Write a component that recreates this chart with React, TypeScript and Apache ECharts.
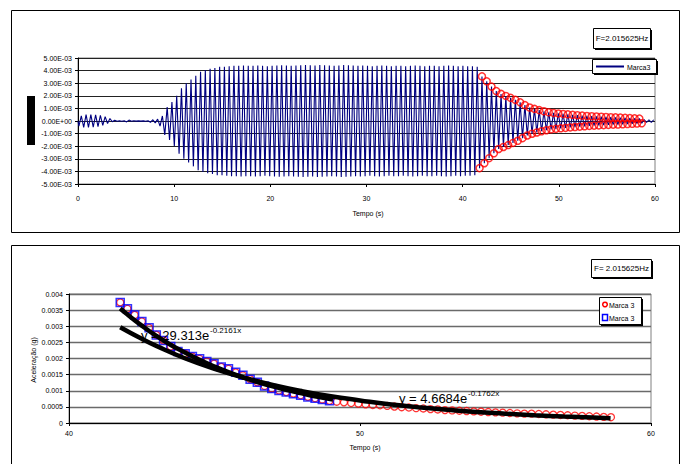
import React, { useEffect, useRef } from "react";
import * as echarts from "echarts";

// ---------- data ----------
const HALF_PERIOD = 0.248; // s, half period of the 2.015625 Hz response
const DECAY_START = 41.76; // s, first picked peak of the free decay

// peak amplitude of each cycle before the free decay (units of 1e-3 g)
const preDecayCycleAmp = [
  0.4, 0.5, 0.5, 0.48, 0.45, 0.35, 0.2, 0.06, 0.02, 0.02, 0.07, 0.02, 0.01, 0.01,
  0.02, 0.1, 0.15, 0.4, 1.1, 1.5, 2.0, 2.6, 3.0, 3.3, 3.6, 3.9, 4.05, 4.15, 4.2,
  4.3, 4.3, 4.35, 4.38, 4.38, 4.4, 4.38, 4.38, 4.4, 4.38, 4.35, 4.38, 4.4, 4.42,
  4.4, 4.38, 4.4, 4.42, 4.45, 4.42, 4.4, 4.45, 4.42, 4.4, 4.38, 4.4, 4.45, 4.42,
  4.4, 4.38, 4.4, 4.38, 4.35, 4.38, 4.4, 4.38, 4.35, 4.38, 4.38, 4.35, 4.38, 4.4,
  4.38, 4.35, 4.38, 4.38, 4.35, 4.38, 4.4, 4.38, 4.35, 4.38, 4.35, 4.35, 4.3,
];

// picked peaks of the free decay, absolute values (g) - "Marca 3" red circles
const decayPeaks = [
  0.00374, 0.00354, 0.00335, 0.00315, 0.00295, 0.00273, 0.00256, 0.00237, 0.00222,
  0.00215, 0.00206, 0.00199, 0.00191, 0.00184, 0.00174, 0.00168, 0.00157, 0.00148,
  0.00136, 0.00126, 0.00115, 0.00107, 0.00101, 0.00096, 0.00091, 0.00086, 0.00081,
  0.00077, 0.00073, 0.00069, 0.00066, 0.00064, 0.00062, 0.0006, 0.00058, 0.00056,
  0.00055, 0.00053, 0.00051, 0.00049, 0.00048, 0.00046, 0.00045, 0.00043, 0.00042,
  0.0004, 0.00039, 0.00038, 0.00037, 0.00036, 0.00035, 0.00034, 0.00033, 0.00032,
  0.00031, 0.0003, 0.00029, 0.00029, 0.00028, 0.00027, 0.00026, 0.00025, 0.00024,
  0.00023, 0.00022, 0.00021, 0.0002, 0.00019, 0.00018,
];

// second pick of the same decay (g) - "Marca 3" blue squares
const bluePeaks = [
  0.00374, 0.00354, 0.00335, 0.00315, 0.00295, 0.00273, 0.00256, 0.00237, 0.00222,
  0.00215, 0.00206, 0.00199, 0.00191, 0.00184, 0.00174, 0.00168, 0.00157, 0.00148,
  0.00136, 0.00126, 0.00115, 0.00107, 0.00101, 0.00096, 0.00091, 0.00086, 0.00081,
  0.00077, 0.00073, 0.00069,
];

// residual oscillation after the last pick (units of 1e-3 g)
const tailAmp = [0.12, 0.12, 0.1, 0.12, 0.1];

// trend lines (as drawn)
const upperTrendT = [41.76, 42, 42.5, 43, 43.5, 44, 44.5, 45, 45.5, 46, 46.5, 47, 47.5, 48, 48.5, 49.07];
const upperTrendV = [
  0.00355, 0.00337, 0.00302, 0.0027, 0.00242, 0.00218, 0.00195, 0.00175, 0.00157,
  0.00141, 0.00126, 0.00114, 0.00102, 0.00092, 0.00082, 0.00073,
];
const lowerTrendT = [41.76, 42.5, 43, 44, 45, 46, 47, 48, 49, 50, 51, 52, 53, 54, 55, 56, 57, 58, 58.61];
const lowerTrendV = [
  0.00297, 0.00261, 0.00239, 0.002, 0.00168, 0.00141, 0.00118, 0.00099, 0.00083,
  0.0007, 0.00058, 0.00049, 0.00041, 0.00034, 0.00029, 0.00024, 0.0002, 0.00017,
  0.00015,
];

const FONT = 'Arial, "Liberation Sans", Helvetica, sans-serif';

function buildSignal(): [number, number][] {
  const out: [number, number][] = [[0, 0]];
  const t0 = DECAY_START - preDecayCycleAmp.length * 2 * HALF_PERIOD;
  preDecayCycleAmp.forEach((a, j) => {
    out.push([t0 + 2 * j * HALF_PERIOD, -a * 1e-3]);
    out.push([t0 + (2 * j + 1) * HALF_PERIOD, a * 1e-3]);
  });
  decayPeaks.forEach((v, i) => out.push([DECAY_START + i * HALF_PERIOD, i % 2 === 0 ? -v : v]));
  tailAmp.forEach((a, i) => {
    const k = decayPeaks.length + i;
    out.push([DECAY_START + k * HALF_PERIOD, (k % 2 === 0 ? -1 : 1) * a * 1e-3]);
  });
  return out;
}

function sciLabel(v: number): string {
  const s = v.toExponential(2);
  const [m, e] = s.split("e");
  const n = parseInt(e, 10);
  const sign = n < 0 ? "-" : "+";
  const abs = Math.abs(n);
  return m + "E" + sign + (abs < 10 ? "0" + abs : String(abs));
}

function shadowBox(x: number, y: number, w: number, h: number): any[] {
  return [
    { type: "rect", shape: { x: x + 1.5, y: y + 1.5, width: w, height: h }, style: { fill: "#000" }, z: 10 },
    { type: "rect", shape: { x, y, width: w, height: h }, style: { fill: "#fff", stroke: "#000", lineWidth: 1 }, z: 11 },
  ];
}

export default function App() {
  const ref = useRef<HTMLDivElement>(null);

  useEffect(() => {
    if (!ref.current) return;
    const chart = echarts.init(ref.current, undefined, { renderer: "svg" });

    const signal = buildSignal();
    const topPicks = decayPeaks.map((v, i) => [DECAY_START + i * HALF_PERIOD, i % 2 === 0 ? -v : v]);
    const redPts = decayPeaks.map((v, i) => [DECAY_START + i * HALF_PERIOD, v]);
    const bluePts = bluePeaks.map((v, i) => [DECAY_START + i * HALF_PERIOD, v]);
    const upper = upperTrendT.map((t, i) => [t, upperTrendV[i]]);
    const lower = lowerTrendT.map((t, i) => [t, lowerTrendV[i]]);

    const axisCommon = {
      axisLine: { show: true, onZero: false, lineStyle: { color: "#000", width: 1 } },
      axisTick: { show: true, length: 3, lineStyle: { color: "#000" } },
    };

    const graphic: any[] = [
      { type: "rect", shape: { x: 11.5, y: 10.5, width: 668, height: 222 }, style: { fill: "none", stroke: "#000", lineWidth: 1 }, z: 5 },
      { type: "rect", shape: { x: 11.5, y: 245.5, width: 668, height: 230 }, style: { fill: "none", stroke: "#000", lineWidth: 1 }, z: 5 },
      { type: "rect", shape: { x: 27, y: 96, width: 8, height: 49 }, style: { fill: "#000" }, z: 5 },
      ...shadowBox(593.5, 28.5, 57, 20),
      { type: "text", x: 622, y: 38.5, z: 12, style: { text: "F=2.015625Hz", font: `8px ${FONT}`, fill: "#000", align: "center", verticalAlign: "middle" } },
      ...shadowBox(592.5, 59.5, 64, 14),
      { type: "line", shape: { x1: 596, y1: 66.5, x2: 624, y2: 66.5 }, style: { stroke: "#000080", lineWidth: 2 }, z: 12 },
      { type: "text", x: 627, y: 67, z: 12, style: { text: "Marca3", font: `7px ${FONT}`, fill: "#000", align: "left", verticalAlign: "middle" } },
      ...shadowBox(591.5, 259.5, 60, 18),
      { type: "text", x: 621.5, y: 268.5, z: 12, style: { text: "F= 2.015625Hz", font: `8px ${FONT}`, fill: "#000", align: "center", verticalAlign: "middle" } },
      ...shadowBox(599.5, 297.5, 42, 27),
      { type: "circle", shape: { cx: 605, cy: 304.5, r: 2.3 }, style: { fill: "none", stroke: "#ff0000", lineWidth: 1.5 }, z: 12 },
      { type: "text", x: 609, y: 305, z: 12, style: { text: "Marca 3", font: `7px ${FONT}`, fill: "#000", align: "left", verticalAlign: "middle" } },
      { type: "rect", shape: { x: 602.5, y: 314.5, width: 5, height: 6 }, style: { fill: "none", stroke: "#0000ff", lineWidth: 1.5 }, z: 12 },
      { type: "text", x: 609, y: 318, z: 12, style: { text: "Marca 3", font: `7px ${FONT}`, fill: "#000", align: "left", verticalAlign: "middle" } },
      { type: "text", x: 368, y: 213, z: 12, style: { text: "Tempo (s)", font: `7px ${FONT}`, fill: "#000", align: "center", verticalAlign: "middle" } },
      { type: "text", x: 365, y: 447, z: 12, style: { text: "Tempo (s)", font: `7px ${FONT}`, fill: "#000", align: "center", verticalAlign: "middle" } },
      { type: "text", x: 33, y: 360, rotation: Math.PI / 2, z: 12, style: { text: "Aceleração (g)", font: `7px ${FONT}`, fill: "#000", align: "center", verticalAlign: "middle" } },
      { type: "text", x: 141, y: 335, z: 12, style: { text: "y = 29.313e", font: `13px ${FONT}`, fill: "#000", align: "left", verticalAlign: "middle" } },
      { type: "text", x: 210, y: 330, z: 12, style: { text: "-0.2161x", font: `8px ${FONT}`, fill: "#000", align: "left", verticalAlign: "middle" } },
      { type: "text", x: 399, y: 398, z: 12, style: { text: "y = 4.6684e", font: `13px ${FONT}`, fill: "#000", align: "left", verticalAlign: "middle" } },
      { type: "text", x: 468, y: 393, z: 12, style: { text: "-0.1762x", font: `8px ${FONT}`, fill: "#000", align: "left", verticalAlign: "middle" } },
    ];

    chart.setOption({
      animation: false,
      backgroundColor: "#fff",
      textStyle: { fontFamily: FONT },
      grid: [
        { left: 78, top: 58, width: 577, height: 126, show: true, borderColor: "#808080", borderWidth: 1, backgroundColor: "transparent" },
        { left: 69, top: 294, width: 582, height: 129, show: true, borderColor: "#808080", borderWidth: 1, backgroundColor: "transparent" },
      ],
      xAxis: [
        {
          gridIndex: 0, type: "value", min: 0, max: 60, interval: 10, ...axisCommon,
          axisLabel: { fontSize: 7, color: "#000", margin: 11, fontFamily: FONT },
          splitLine: { show: false },
        },
        {
          gridIndex: 1, type: "value", min: 40, max: 60, interval: 10, ...axisCommon,
          axisLabel: { fontSize: 7, color: "#000", margin: 7, fontFamily: FONT },
          splitLine: { show: false },
        },
      ],
      yAxis: [
        {
          gridIndex: 0, type: "value", min: -0.005, max: 0.005, interval: 0.001, ...axisCommon,
          axisLabel: { fontSize: 7, color: "#000", margin: 6, fontFamily: FONT, formatter: (v: number) => sciLabel(v) },
          splitLine: { show: true, lineStyle: { color: "#222", width: 1 } },
        },
        {
          gridIndex: 1, type: "value", min: 0, max: 0.004, interval: 0.0005, ...axisCommon,
          axisLabel: { fontSize: 7, color: "#000", margin: 6, fontFamily: FONT, formatter: (v: number) => String(+v.toFixed(4)) },
          splitLine: { show: true, lineStyle: { color: "#6a6a6a", width: 1.3 } },
        },
      ],
      series: [
        {
          type: "line", xAxisIndex: 0, yAxisIndex: 0, data: signal, showSymbol: false, symbol: "none",
          lineStyle: { color: "#000080", width: 1.1 }, z: 2,
        },
        {
          type: "scatter", xAxisIndex: 0, yAxisIndex: 0, data: topPicks, symbol: "circle", symbolSize: 7,
          itemStyle: { color: "rgba(0,0,0,0)", borderColor: "#ff0000", borderWidth: 1.5 }, z: 3,
        },
        {
          type: "scatter", xAxisIndex: 1, yAxisIndex: 1, data: redPts, symbol: "circle", symbolSize: 7,
          itemStyle: { color: "rgba(0,0,0,0)", borderColor: "#ff0000", borderWidth: 1.3 }, z: 3,
        },
        {
          type: "scatter", xAxisIndex: 1, yAxisIndex: 1, data: bluePts, symbol: "rect", symbolSize: 8,
          itemStyle: { color: "rgba(0,0,0,0)", borderColor: "#0000ff", borderWidth: 1.5 }, z: 4,
        },
        {
          type: "line", xAxisIndex: 1, yAxisIndex: 1, data: upper, smooth: true, showSymbol: false, symbol: "none",
          lineStyle: { color: "#000", width: 4.5 }, z: 5,
        },
        {
          type: "line", xAxisIndex: 1, yAxisIndex: 1, data: lower, smooth: true, showSymbol: false, symbol: "none",
          lineStyle: { color: "#000", width: 4.5 }, z: 5,
        },
      ],
      graphic,
    });

    return () => chart.dispose();
  }, []);

  return (
    <div
      ref={ref}
      style={{ position: "absolute", left: 0, top: 0, width: 683, height: 464, background: "#fff" }}
    />
  );
}
